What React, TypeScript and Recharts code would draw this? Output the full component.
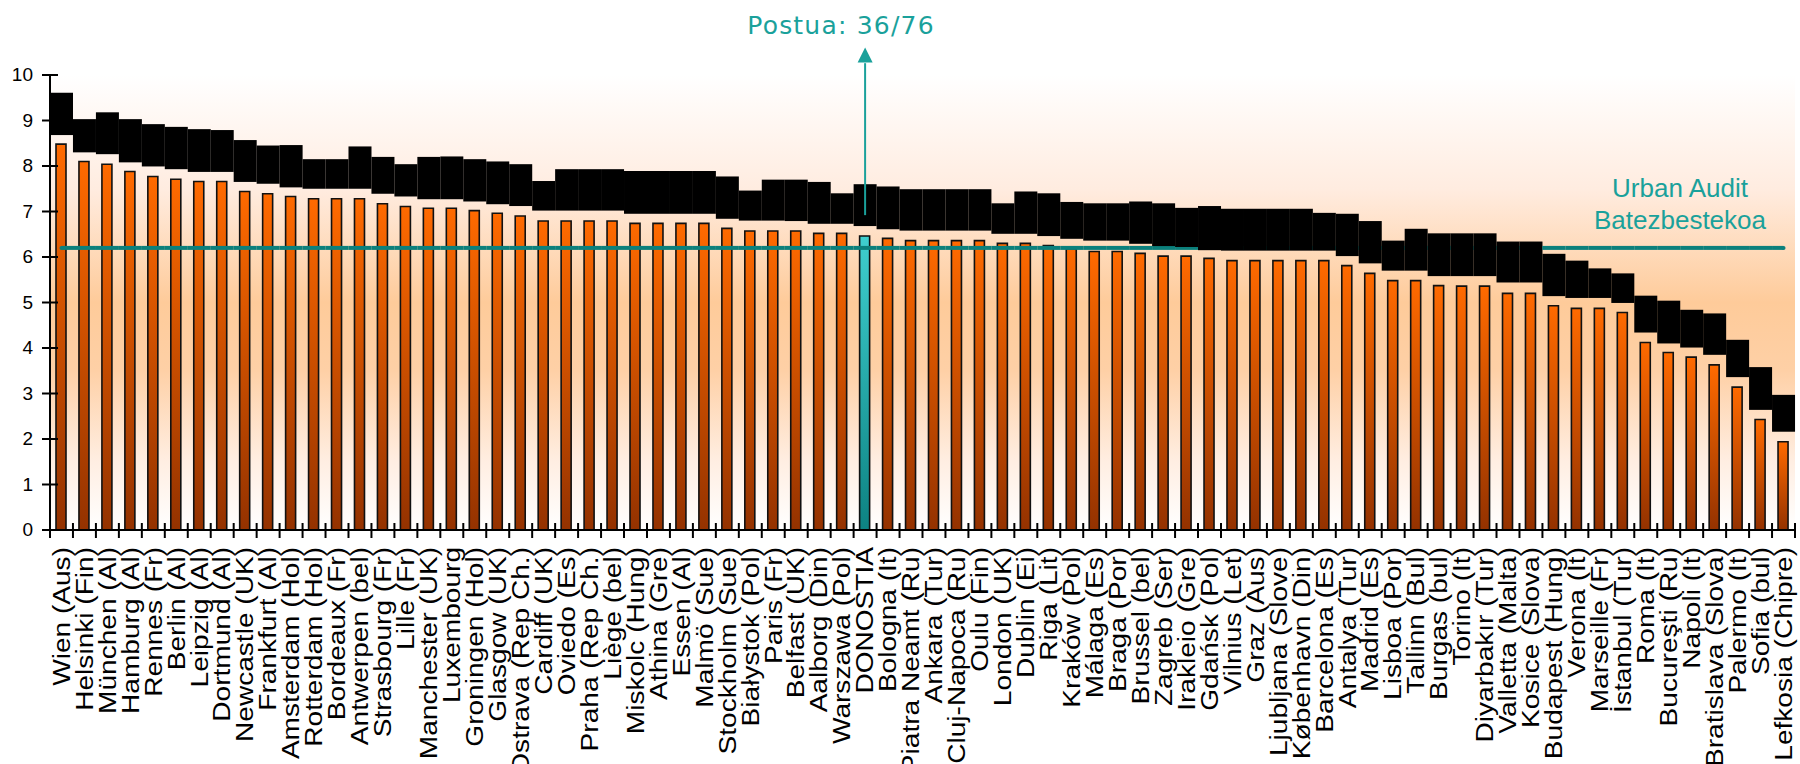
import {
  Bar,
  CartesianGrid,
  Cell,
  ComposedChart,
  ReferenceDot,
  ReferenceLine,
  XAxis,
  YAxis,
} from 'recharts';

// Hiriak, ordenatuta (balio handienetik txikienera)
const cities = [
  'Wien (Aus)', 'Helsinki (Fin)', 'München (Al)', 'Hamburg (Al)', 'Rennes (Fr)',
  'Berlin (Al)', 'Leipzig (Al)', 'Dortmund (Al)', 'Newcastle (UK)', 'Frankfurt (Al)',
  'Amsterdam (Hol)', 'Rotterdam (Hol)', 'Bordeaux (Fr)', 'Antwerpen (bel)', 'Strasbourg (Fr)',
  'Lille (Fr)', 'Manchester (UK)', 'Luxembourg', 'Groningen (Hol)', 'Glasgow (UK)',
  'Ostrava (Rep Ch.)', 'Cardiff (UK)', 'Oviedo (Es)', 'Praha (Rep Ch.)', 'Liège (bel)',
  'Miskolc (Hung)', 'Athina (Gre)', 'Essen (Al)', 'Malmö (Sue)', 'Stockholm (Sue)',
  'Białystok (Pol)', 'Paris (Fr)', 'Belfast (UK)', 'Aalborg (Din)', 'Warszawa (Pol)',
  'DONOSTIA', 'Bologna (It)', 'Piatra Neamt (Ru)', 'Ankara (Tur)', 'Cluj-Napoca (Ru)',
  'Oulu (Fin)', 'London (UK)', 'Dublin (Ei)', 'Riga (Lit)', 'Kraków (Pol)',
  'Málaga (Es)', 'Braga (Por)', 'Brussel (bel)', 'Zagreb (Ser)', 'Irakleio (Gre)',
  'Gdańsk (Pol)', 'Vilnius (Let)', 'Graz (Aus)', 'Ljubljana (Slove)', 'København (Din)',
  'Barcelona (Es)', 'Antalya (Tur)', 'Madrid (Es)', 'Lisboa (Por)', 'Tallinn (Bul)',
  'Burgas (bul)', 'Torino (It)', 'Diyarbakır (Tur)', 'Valletta (Malta)', 'Kosice (Slova)',
  'Budapest (Hung)', 'Verona (It)', 'Marseille (Fr)', 'İstanbul (Tur)', 'Roma (It)',
  'Bucureşti (Ru)', 'Napoli (It)', 'Bratislava (Slova)', 'Palermo (It)', 'Sofia (bul)',
  'Lefkosia (Chipre)',
];

const values = [
  8.48, 8.10, 8.04, 7.88, 7.77, 7.71, 7.66, 7.66, 7.44, 7.39,
  7.33, 7.28, 7.28, 7.28, 7.17, 7.11, 7.07, 7.07, 7.02, 6.96,
  6.90, 6.79, 6.79, 6.79, 6.79, 6.74, 6.74, 6.74, 6.74, 6.63,
  6.57, 6.57, 6.57, 6.52, 6.52, 6.46, 6.41, 6.36, 6.36, 6.36,
  6.36, 6.30, 6.30, 6.25, 6.18, 6.12, 6.12, 6.08, 6.02, 6.02,
  5.97, 5.92, 5.92, 5.92, 5.92, 5.92, 5.81, 5.64, 5.48, 5.48,
  5.37, 5.36, 5.36, 5.20, 5.20, 4.93, 4.87, 4.87, 4.78, 4.12,
  3.90, 3.80, 3.63, 3.14, 2.43, 1.94,
];

// banda beltza (behekoa / goikoa)
const bandLow = [
  8.68, 8.30, 8.26, 8.08, 7.99, 7.93, 7.87, 7.87, 7.65, 7.61,
  7.53, 7.50, 7.50, 7.50, 7.39, 7.33, 7.27, 7.27, 7.22, 7.16,
  7.12, 7.02, 7.02, 7.02, 7.02, 6.95, 6.95, 6.95, 6.95, 6.84,
  6.80, 6.80, 6.79, 6.73, 6.73, 6.68, 6.61, 6.58, 6.58, 6.58,
  6.58, 6.51, 6.51, 6.46, 6.40, 6.36, 6.36, 6.29, 6.24, 6.22,
  6.15, 6.14, 6.14, 6.14, 6.14, 6.14, 6.02, 5.86, 5.70, 5.70,
  5.58, 5.58, 5.58, 5.44, 5.44, 5.14, 5.10, 5.10, 4.99, 4.34,
  4.10, 4.01, 3.85, 3.36, 2.64, 2.16,
];
const bandHigh = [
  9.61, 9.03, 9.18, 9.03, 8.92, 8.86, 8.81, 8.79, 8.57, 8.45,
  8.46, 8.15, 8.15, 8.43, 8.20, 8.04, 8.20, 8.21, 8.15, 8.10,
  8.04, 7.67, 7.93, 7.93, 7.93, 7.89, 7.89, 7.89, 7.89, 7.77,
  7.46, 7.70, 7.70, 7.65, 7.40, 7.60, 7.55, 7.49, 7.49, 7.49,
  7.49, 7.18, 7.44, 7.40, 7.21, 7.18, 7.18, 7.22, 7.18, 7.08,
  7.12, 7.06, 7.06, 7.06, 7.06, 6.97, 6.95, 6.79, 6.36, 6.62,
  6.52, 6.52, 6.52, 6.34, 6.34, 6.07, 5.92, 5.75, 5.64, 5.15,
  5.04, 4.84, 4.76, 4.18, 3.58, 2.97,
];

const yTicks = [0, 1, 2, 3, 4, 5, 6, 7, 8, 9, 10];
const AVERAGE = 6.2;
const HIGHLIGHT = 'DONOSTIA';
const RANK_LABEL = 'Postua: 36/76';
const ARROW_FROM = 6.92;
const ARROW_TO = 10.26;
const ARROW_HEAD = 10.43;

const data = cities.map((city, i) => ({
  city,
  value: values[i],
  band: [bandLow[i], bandHigh[i]],
}));

const W = 1800;
const H = 764;
const LEFT = 50;
const RIGHT = 5;
const TEAL = '#0b807c';
const TEAL_TEXT = '#1aa19b';
const bandHalf = (W - LEFT - RIGHT) / cities.length / 2;

const CityTick = (props: any) => {
  const { x, y, payload } = props;
  const last = payload.value === cities[cities.length - 1];
  return (
    <g>
      <line x1={x - bandHalf} x2={x - bandHalf} y1={y - 7} y2={y + 8} stroke="#000" strokeWidth={2} />
      {last && <line x1={x + bandHalf} x2={x + bandHalf} y1={y - 7} y2={y + 8} stroke="#000" strokeWidth={2} />}
      <text
        transform={`translate(${x},${y + 17}) rotate(-90) scale(1.17,1)`}
        textAnchor="end"
        dominantBaseline="central"
        fontSize={24}
        fontFamily="'Liberation Sans', Arial, sans-serif"
        fill="#000"
      >
        {payload.value}
      </text>
    </g>
  );
};

const ValueTick = (props: any) => {
  const { x, y, payload } = props;
  return (
    <g>
      <line x1={x - 8} x2={x + 8} y1={y} y2={y} stroke="#000" strokeWidth={2} />
      <text x={x - 17} y={y + 6} textAnchor="end" fontSize={19} fontFamily="'Liberation Sans', Arial, sans-serif" fill="#000">
        {payload.value}
      </text>
    </g>
  );
};

// banda beltza; batezbestekoaren marra azpian marrazten da, kategoriaz kategoria
const BandShape = (props: any) => {
  const { x, y, width, height, index } = props;
  const lo = bandLow[index];
  const hi = bandHigh[index];
  const avgY = y + ((hi - AVERAGE) * height) / (hi - lo);
  const first = index === 0;
  const last = index === cities.length - 1;
  const x1 = first ? x + width / 2 : x;
  const x2 = last ? x + width / 2 : x + width;
  return (
    <g>
      <line x1={x1} x2={x2} y1={avgY} y2={avgY} stroke={TEAL} strokeWidth={4} />
      {(first || last) && <circle cx={first ? x1 : x2} cy={avgY} r={2} fill={TEAL} />}
      <rect x={x} y={y} width={width} height={height} fill="#000" />
    </g>
  );
};

const ArrowHead = (props: any) => {
  const { cx, cy } = props;
  return <polygon points={`${cx},${cy - 8} ${cx - 7.5},${cy + 7} ${cx + 7.5},${cy + 7}`} fill={TEAL_TEXT} />;
};

export default function App() {
  return (
    <div style={{ position: 'absolute', left: 0, top: 0, width: W, height: H, background: '#fff' }}>
      <ComposedChart
        width={W}
        height={H}
        data={data}
        margin={{ top: 75, right: RIGHT, left: 0, bottom: 0 }}
        barCategoryGap={0}
      >
        <defs>
          <linearGradient id="bgGrad" x1="0" y1="0" x2="0" y2="1">
            <stop offset="0%" stopColor="#ffffff" />
            <stop offset="25%" stopColor="#ffece0" />
            <stop offset="50%" stopColor="#fecb9a" />
            <stop offset="65%" stopColor="#fed0a6" />
            <stop offset="85%" stopColor="#ffeee2" />
            <stop offset="100%" stopColor="#ffffff" />
          </linearGradient>
          <linearGradient id="barGrad" x1="0" y1="0" x2="0" y2="1">
            <stop offset="0%" stopColor="#ff6a00" />
            <stop offset="100%" stopColor="#943200" />
          </linearGradient>
          <linearGradient id="hlGrad" x1="0" y1="0" x2="0" y2="1">
            <stop offset="0%" stopColor="#3fcfcf" />
            <stop offset="100%" stopColor="#0d8282" />
          </linearGradient>
        </defs>
        <CartesianGrid xAxisId="main" horizontal={false} vertical={false} fill="url(#bgGrad)" />
        <XAxis
          xAxisId="main"
          dataKey="city"
          height={234}
          interval={0}
          tickSize={0}
          tickMargin={0}
          tickLine={false}
          tick={<CityTick />}
          axisLine={{ stroke: '#000', strokeWidth: 2 }}
        />
        <XAxis
          xAxisId="band"
          dataKey="city"
          orientation="top"
          height={0}
          tick={false}
          tickLine={false}
          axisLine={{ stroke: TEAL, strokeWidth: 2 }}
        />
        <YAxis
          domain={[0, 10]}
          ticks={yTicks}
          width={LEFT}
          tickSize={0}
          tickMargin={0}
          tickLine={false}
          tick={<ValueTick />}
          axisLine={{ stroke: '#000', strokeWidth: 2 }}
        />
        <YAxis
          yAxisId="right"
          orientation="right"
          domain={[0, 10]}
          width={0}
          tick={false}
          tickLine={false}
          axisLine={{ stroke: TEAL, strokeWidth: 2 }}
        />
        <Bar xAxisId="main" dataKey="value" barSize={10} stroke="#111" strokeWidth={1.6} isAnimationActive={false}>
          {data.map((d) => (
            <Cell key={d.city} fill={d.city === HIGHLIGHT ? 'url(#hlGrad)' : 'url(#barGrad)'} />
          ))}
        </Bar>
        <Bar xAxisId="band" dataKey="band" shape={<BandShape />} isAnimationActive={false} />
        <ReferenceLine
          xAxisId="main"
          segment={[
            { x: HIGHLIGHT, y: ARROW_FROM },
            { x: HIGHLIGHT, y: ARROW_TO },
          ]}
          stroke={TEAL_TEXT}
          strokeWidth={2}
          ifOverflow="visible"
        />
        <ReferenceDot
          xAxisId="main"
          x={HIGHLIGHT}
          y={ARROW_HEAD}
          ifOverflow="visible"
          shape={<ArrowHead />}
        />
      </ComposedChart>
      <svg width={W} height={H} style={{ position: 'absolute', left: 0, top: 0, pointerEvents: 'none' }}>
        <text x={841} y={34} textAnchor="middle" fontSize={25} letterSpacing={1.2} fontFamily="'DejaVu Sans', Verdana, sans-serif" fill={TEAL_TEXT}>
          {RANK_LABEL}
        </text>
        <text x={1680} textAnchor="middle" fontSize={26} fontFamily="'Liberation Sans', Arial, sans-serif" fill={TEAL_TEXT}>
          <tspan x={1680} y={197}>Urban Audit</tspan>
          <tspan x={1680} y={229}>Batezbestekoa</tspan>
        </text>
      </svg>
    </div>
  );
}
